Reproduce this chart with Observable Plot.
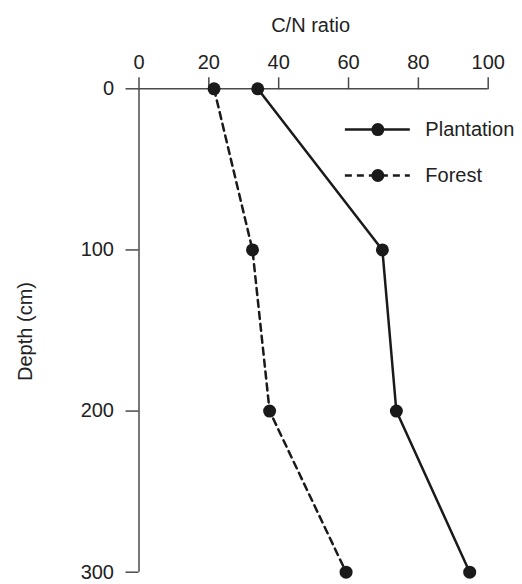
<!DOCTYPE html>
<html>
<head>
<meta charset="utf-8">
<script src="https://cdn.jsdelivr.net/npm/d3@7"></script>
<script src="https://cdn.jsdelivr.net/npm/@observablehq/plot@0.6"></script>
<style>
  html, body { margin: 0; padding: 0; background: #fff; }
</style>
</head>
<body>
<div id="chart"></div>
<script>
const depth = [0, 100, 200, 300];
const plantation = [34.0, 69.7, 73.7, 94.7];
const forest = [21.5, 32.5, 37.4, 59.3];
const seriesNames = ["Plantation", "Forest"];
const xTicks = [0, 20, 40, 60, 80, 100];
const yTicks = [0, 100, 200, 300];
const xLabel = "C/N ratio";
const yLabel = "Depth (cm)";

const table = [];
depth.forEach((d, i) => table.push({series: "Plantation", depth: d, cn: plantation[i]}));
depth.forEach((d, i) => table.push({series: "Forest", depth: d, cn: forest[i]}));

const dashes = {Plantation: null, Forest: "7,5"};
const axisColor = "#4a4a4a";
const ink = "#1a1a1a";

// legend layout (data coordinates)
const legend = seriesNames.map((s, i) => ({
  series: s, y: [25.3, 53.8][i], x1: 59.1, x2: 77.7, xd: 68.4, xt: 82.0
}));

const marks = [
  Plot.ruleY([0], {stroke: axisColor, strokeWidth: 1.5}),
  Plot.ruleX([0], {stroke: axisColor, strokeWidth: 1.5}),
  Plot.axisX({anchor: "top", ticks: xTicks, tickSize: 12, tickPadding: 8, label: null, stroke: axisColor, strokeWidth: 1.5, fill: "#222"}),
  Plot.axisY({anchor: "left", ticks: yTicks, tickSize: 13, tickPadding: 12, label: null, stroke: axisColor, strokeWidth: 1.5, fill: "#222"}),
  Plot.text([xLabel], {frameAnchor: "top", dx: -3, dy: -57, lineAnchor: "bottom", textAnchor: "middle", fill: "#222"}),
  Plot.text([yLabel], {frameAnchor: "left", rotate: -90, dx: -113.5, dy: 1, lineAnchor: "middle", textAnchor: "middle", fill: "#222"})
];

for (const s of seriesNames) {
  marks.push(Plot.line(table.filter(d => d.series === s), {
    x: "cn", y: "depth", stroke: ink, strokeWidth: 2.5, strokeDasharray: dashes[s]
  }));
}
marks.push(Plot.dot(table, {x: "cn", y: "depth", r: 6.5, fill: ink, stroke: "none"}));

for (const l of legend) {
  marks.push(Plot.ruleY([l], {y: "y", x1: "x1", x2: "x2", stroke: ink, strokeWidth: 2.5, strokeDasharray: dashes[l.series]}));
  marks.push(Plot.dot([l], {x: "xd", y: "y", r: 6.5, fill: ink, stroke: "none"}));
  marks.push(Plot.text([l], {x: "xt", y: "y", text: "series", textAnchor: "start", lineAnchor: "middle", fill: "#222"}));
}

const chart = Plot.plot({
  width: 522,
  height: 584,
  marginLeft: 138.5,
  marginRight: 34.3,
  marginTop: 88.3,
  marginBottom: 12.3,
  style: {fontFamily: "'Liberation Sans', Arial, Helvetica, sans-serif", fontSize: "20px", background: "#fff"},
  x: {domain: [0, 100]},
  y: {domain: [0, 300], reverse: true},
  marks
});
document.getElementById("chart").appendChild(chart);
</script>
</body>
</html>
